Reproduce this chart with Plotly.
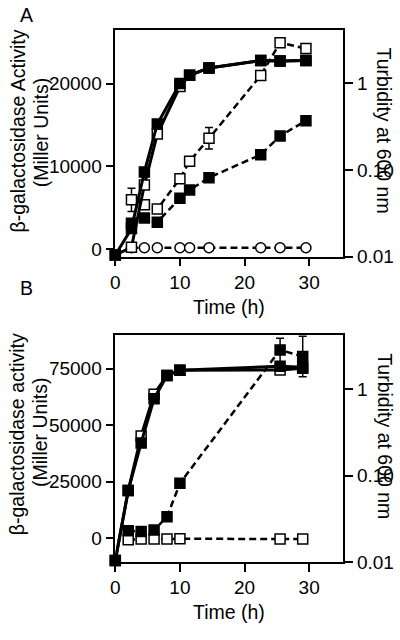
import plotly.graph_objects as go

# ---------------- Panel A data ----------------
a_time_solid = [0, 2.5, 4.5, 6.5, 10, 11.5, 14.5, 22.5, 25.5, 29.5]
a_turb_filled = [0.0104, 0.021, 0.095, 0.34, 1.0, 1.24, 1.51, 1.84, 1.81, 1.84]
a_turb_open = [0.0104, 0.0128, 0.067, 0.26, 0.92, 1.24, 1.51, 1.84, 1.81, 1.84]

a_time_dash = [2.5, 4.5, 6.5, 10, 11.5, 14.5, 22.5, 25.5, 29.5]
a_gal_open = [5940, 5340, 4820, 8500, 10600, 13370, 20970, 24940, 24230]
a_gal_open_err = [1400, 0, 0, 0, 0, 1300, 0, 0, 0]
a_gal_filled = [3100, 3750, 3240, 6130, 7130, 8620, 11400, 13660, 15510]
a_gal_circle = [150, 150, 150, 150, 150, 150, 150, 150, 150]

# ---------------- Panel B data ----------------
b_time_solid = [0, 2, 4, 6, 8, 10, 25.5, 29]
b_turb_filled = [0.0104, 0.067, 0.239, 0.78, 1.45, 1.67, 1.85, 1.80]
b_turb_filled_err = [0, 0, 0, 0, 0, 0, 0.12, 0.15]
b_turb_open = [0.0104, 0.067, 0.288, 0.877, 1.45, 1.67, 1.68, 1.76]

b_time_dash = [2, 4, 6, 8, 10, 25.5, 29]
b_gal_filled = [3180, 2880, 3480, 9400, 24220, 83300, 80400]
b_gal_filled_err = [0, 0, 0, 0, 0, 5200, 9000]
b_gal_open = [-800, -500, -500, -500, -300, -500, -500]

FONT = "Liberation Sans, Arial, Helvetica, sans-serif"
FS = 19.5
TFS = 19

filled_sq = dict(symbol="square", size=10, color="black", line=dict(color="black", width=1.5))
open_sq = dict(symbol="square", size=10, color="white", line=dict(color="black", width=1.5))
open_ci = dict(symbol="circle", size=10, color="white", line=dict(color="black", width=1.5))
solid_line = dict(color="black", width=3)
dash_line = dict(color="black", width=2.5, dash="7px,4px")


def err(arr):
    return dict(type="data", array=arr, visible=True, color="black", thickness=1.5, width=4)


fig = go.Figure()

# Panel A
fig.add_trace(go.Scatter(x=a_time_dash, y=a_gal_circle, mode="lines+markers", line=dash_line,
                         marker=open_ci, xaxis="x", yaxis="y", cliponaxis=False))
fig.add_trace(go.Scatter(x=a_time_dash, y=a_gal_filled, mode="lines+markers", line=dash_line,
                         marker=filled_sq, xaxis="x", yaxis="y", cliponaxis=False))
fig.add_trace(go.Scatter(x=a_time_solid, y=a_turb_open, mode="lines+markers", line=solid_line,
                         marker=open_sq, xaxis="x", yaxis="y2", cliponaxis=False))
fig.add_trace(go.Scatter(x=a_time_solid, y=a_turb_filled, mode="lines+markers", line=solid_line,
                         marker=filled_sq, xaxis="x", yaxis="y2", cliponaxis=False))
fig.add_trace(go.Scatter(x=a_time_dash, y=a_gal_open, mode="lines+markers", line=dash_line,
                         marker=open_sq, error_y=err(a_gal_open_err), xaxis="x", yaxis="y",
                         cliponaxis=False))

# Panel B
fig.add_trace(go.Scatter(x=b_time_dash, y=b_gal_open, mode="lines+markers", line=dash_line,
                         marker=open_sq, xaxis="x2", yaxis="y3", cliponaxis=False))
fig.add_trace(go.Scatter(x=b_time_solid, y=b_turb_open, mode="lines+markers", line=solid_line,
                         marker=open_sq, xaxis="x2", yaxis="y4", cliponaxis=False))
fig.add_trace(go.Scatter(x=b_time_solid, y=b_turb_filled, mode="lines+markers", line=solid_line,
                         marker=filled_sq, error_y=err(b_turb_filled_err), xaxis="x2", yaxis="y4",
                         cliponaxis=False))
fig.add_trace(go.Scatter(x=b_time_dash, y=b_gal_filled, mode="lines+markers", line=dash_line,
                         marker=filled_sq, error_y=err(b_gal_filled_err), xaxis="x2", yaxis="y3",
                         cliponaxis=False))

W, H = 400, 640
xl, xr = 111.7 / W, 342.7 / W
a_top, a_bot = 1 - 30.7 / H, 1 - 261 / H
b_top, b_bot = 1 - 340.7 / H, 1 - 571.7 / H

common = dict(showline=True, linecolor="black", linewidth=1.5, ticks="outside", ticklen=8,
              tickwidth=1.5, tickcolor="black", showgrid=False, zeroline=False,
              tickfont=dict(family=FONT, size=TFS, color="black"))

fig.update_layout(
    width=W, height=H, margin=dict(l=0, r=0, t=0, b=0),
    paper_bgcolor="white", plot_bgcolor="white", showlegend=False,
    font=dict(family=FONT, size=FS, color="black"),
    xaxis=dict(domain=[xl, xr], range=[0, 35.3], tickvals=[0, 10, 20, 30], anchor="y",
               mirror=True, **common),
    yaxis=dict(domain=[a_bot, a_top], range=[-915, 26450], tickvals=[0, 10000, 20000],
               tickformat="d", anchor="x", **common),
    yaxis2=dict(overlaying="y", side="right", type="log", range=[-2, 0.615],
                tickvals=[0.01, 0.1, 1], ticktext=["0.01", "0.10", "1"], anchor="x", **common),
    xaxis2=dict(domain=[xl, xr], range=[0, 35.3], tickvals=[0, 10, 20, 30], anchor="y3",
                mirror=True, **common),
    yaxis3=dict(domain=[b_bot, b_top], range=[-10600, 90000], tickvals=[0, 25000, 50000, 75000],
                tickformat="d", anchor="x2", **common),
    yaxis4=dict(overlaying="y3", side="right", type="log", range=[-2, 0.632],
                tickvals=[0.01, 0.1, 1], ticktext=["0.01", "0.10", "1"], anchor="x2", **common),
)


def px(x, y):
    return x / W, 1 - y / H


def ann(text, x, y, angle=0, size=FS):
    ax, ay = px(x, y)
    fig.add_annotation(text=text, x=ax, y=ay, xref="paper", yref="paper", showarrow=False,
                       textangle=angle, xanchor="center", yanchor="middle",
                       font=dict(family=FONT, size=size, color="black"))


ann("A", 22, 15)
ann("B", 22, 293)
ann("Time (h)", 227, 312)
ann("Time (h)", 227, 623)
ann("β-galactosidase Activity", 13, 133, angle=-90)
ann("(Miller Units)", 36, 135, angle=-90)
ann("β-galactosidase activity", 13, 442, angle=-90)
ann("(Miller Units)", 36, 440, angle=-90)
ann("Turbidity at 600 nm", 384, 133, angle=90)
ann("Turbidity at 600 nm", 384, 444, angle=90)

fig.write_html("out.html", config={"displayModeBar": False},
               post_script="document.body.style.margin='0';document.body.style.overflow='hidden';")
